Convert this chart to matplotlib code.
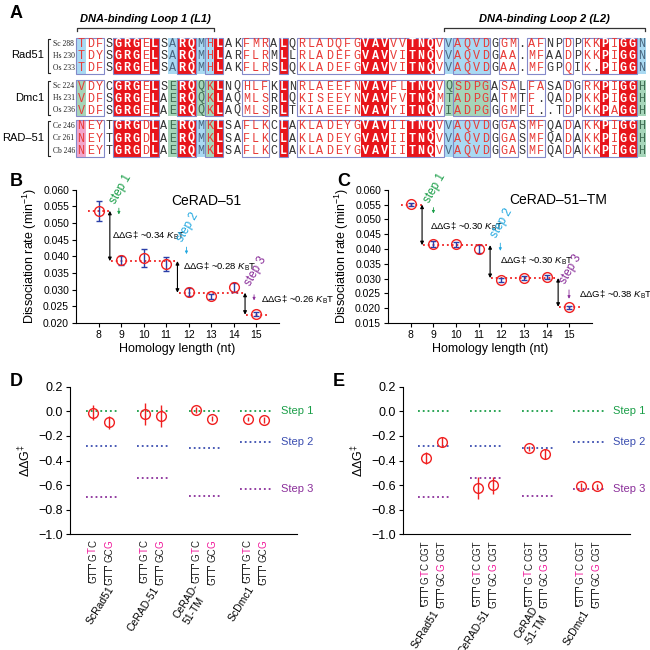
import numpy as np
import matplotlib
matplotlib.use("Agg")
import matplotlib.pyplot as plt
import matplotlib.transforms as mtransforms
from matplotlib.patches import Rectangle

plt.rcParams['font.family'] = ['Liberation Sans', 'DejaVu Sans']
plt.rcParams['mathtext.fontset'] = 'custom'
plt.rcParams['mathtext.rm'] = 'Liberation Sans'
plt.rcParams['mathtext.it'] = 'Liberation Sans:italic'
plt.rcParams['mathtext.bf'] = 'Liberation Sans:bold'

# ---------------- panel A: alignment ----------------
GROUPS = ['Rad51', 'Dmc1', 'RAD\u201351']
SPECIES = [['Sc 288', 'Hs 230', 'Os 233'],
           ['Sc 224', 'Hs 231', 'Os 236'],
           ['Ce 246', 'Cr 261', 'Cb 246']]
SEQS = [['TDFSGRGELSARQMHLAKFMRALQRLADQFGVAVVVTNQVVAQVDGGM.AFNPDPKKPIGGN',
         'TDYSGRGELSARQMHLARFLRMLLRLADEFGVAVVITNQVVAQVDGAA.MFAADPKKPIGGN',
         'TDFSGRGELSARQMHLAKFLRSLQKLADEFGVAVVITNQVVAQVDGAA.MFGPQIK.PIGGN'],
        ['VDYCGRGELSERQQKLNQHLFKLNRLAEEFNVAVFLTNQVQSDPGASALFASADGRKPIGGH',
         'VDFSGRGELAERQQKLAQMLSRLQKISEEYNVAVFVTNQMTADPGATMTF.QADPKKPIGGH',
         'VDFSGRGELAERQQKLAQMLSRLTKIAEEFNVAVYITNQVIADPGGGMFI..TDPKKPAGGH'],
        ['NEYTGRGDLAERQMKLSAFLKCLAKLADEYGVAVIITNQVVAQVDGGASMFQADAKKPIGGH',
         'NEYTGRGDLAERQMKLSAFLKCLAKLADEYGVAVIITNQVVAQVDGGASMFQADAKKPIGGH',
         'NEYTGRGDLAERQMKLSAFLKCLAKLADEYGVAVIITNQVVAQVDGGASMFQADAKKPIGGH']]
# R = strictly conserved, s = similar, n = not conserved
COLUMN_CLASS = ("sssnRRRsRn" "nRRnsRnnss" "snRnssssss"
                "sRRRssRRRs" "nssssnssns" "snnsnssRsR" "Rn")
HIGHLIGHT = [
    {0: 'b', 10: 'b', 13: 'b', 14: 'b', 40: 'b', 41: 'b', 42: 'b', 43: 'b', 44: 'b', 61: 'b'},
    {0: 'g', 10: 'g', 13: 'g', 14: 'g', 40: 'g', 41: 'g', 42: 'g', 43: 'g', 44: 'g', 61: 'g'},
    {0: 'p', 10: 'g', 13: 'b', 14: 'g', 40: 'b', 41: 'b', 42: 'b', 43: 'b', 44: 'b', 61: 'g'},
]

# ---------------- panels B, C ----------------
LENGTH = [8, 9, 10, 11, 12, 13, 14, 15]
STEP_GROUPS = [[8], [9, 10, 11], [12, 13, 14], [15]]
B_RATE = [0.0537, 0.0388, 0.0395, 0.0377, 0.0292, 0.0280, 0.0307, 0.0227]
B_ERR = [0.0030, 0.0014, 0.0026, 0.0020, 0.0012, 0.0008, 0.0014, 0.0005]
B_LEVELS = [0.0537, 0.0386, 0.0291, 0.0225]
B_DDG = ['0.34', '0.28', '0.26']
C_RATE = [0.0551, 0.0417, 0.0416, 0.0400, 0.0296, 0.0302, 0.0305, 0.0203]
C_ERR = [0.0006, 0.0010, 0.0008, 0.0012, 0.0007, 0.0007, 0.0006, 0.0005]
C_LEVELS = [0.0550, 0.0413, 0.0302, 0.0205]
C_DDG = ['0.30', '0.30', '0.38']

# ---------------- panels D, E ----------------
PROTEINS = ['ScRad51', 'CeRAD-51', 'CeRAD-\n51-TM', 'ScDmc1']
PROTEINS_E = ['ScRad51', 'CeRAD-51', 'CeRAD\n-51-TM', 'ScDmc1']
STEP1 = [0.0, 0.0, 0.0, 0.0]
STEP2 = [-0.28, -0.28, -0.30, -0.25]
STEP3 = [-0.70, -0.54, -0.69, -0.63]
D_GTC = [-0.01, -0.02, 0.01, -0.06]
D_GTC_ERR = [0.06, 0.09, 0.025, 0.015]
D_GCG = [-0.09, -0.04, -0.06, -0.07]
D_GCG_ERR = [0.05, 0.09, 0.02, 0.025]
E_GTC = [-0.38, -0.62, -0.30, -0.61]
E_GTC_ERR = [0.05, 0.09, 0.02, 0.03]
E_GCG = [-0.25, -0.60, -0.35, -0.61]
E_GCG_ERR = [0.04, 0.07, 0.04, 0.02]
D_SEQS = [[('GTT', 'k'), (' G', 'k'), ('T', 'm'), ('C', 'k')],
          [('GTT', 'k'), (' GC', 'k'), ('G', 'm')]]
E_SEQS = [[('GTT', 'k'), (' G', 'k'), ('T', 'm'), ('C', 'k'), (' CGT', 'k')],
          [('GTT', 'k'), (' GC', 'k'), ('G', 'm'), (' CGT', 'k')]]

RED = '#e8151b'
TXT_RED = '#e83a36'
BG = {'b': '#a9d9f2', 'g': '#a6d5b9', 'p': '#f2a6cc'}
BG_TXT = {'b': '#4a6680', 'g': '#3f6b52', 'p': '#d0306a'}
FRAME = '#8389c9'
GREEN = '#1a9e48'
CYAN = '#22a8e0'
BLUE = '#3a4db0'
PURPLE = '#8a2e9a'
MAGENTA = '#f0189a'
PT_RED = '#f02020'
EB_BLUE = '#2a3ea8'

fig = plt.figure(figsize=(6.5, 6.5), dpi=100)
ov = fig.add_axes([0, 0, 1, 1], zorder=-1)
ov.set_xlim(0, 650)
ov.set_ylim(650, 0)
ov.axis('off')

X0, DX = 81.0, 9.19
ROWS = [[43.5, 55.5, 67.5], [86.0, 98.0, 110.0], [125.5, 138.0, 150.5]]
HALF = 6.0


def runs(cols):
    out = []
    for c in cols:
        if out and c == out[-1][-1] + 1:
            out[-1].append(c)
        else:
            out.append([c])
    return out


ncol = len(COLUMN_CLASS)
for g, rows in enumerate(ROWS):
    top, bot = rows[0] - HALF, rows[-1] + HALF
    for c, key in HIGHLIGHT[g].items():
        ov.add_patch(Rectangle((X0 + (c - 0.5) * DX, top), DX, bot - top, fc=BG[key], ec='none'))
    for run in runs([c for c in range(ncol) if COLUMN_CLASS[c] == 'R']):
        ov.add_patch(Rectangle((X0 + (run[0] - 0.5) * DX, top), len(run) * DX, bot - top,
                               fc=RED, ec='none'))
    for run in runs([c for c in range(ncol) if COLUMN_CLASS[c] != 'n']):
        ov.add_patch(Rectangle((X0 + (run[0] - 0.5) * DX, top), len(run) * DX, bot - top,
                               fc='none', ec=FRAME, lw=0.8))
    for r, y in enumerate(rows):
        seq = SEQS[g][r]
        for c, ch in enumerate(seq):
            cls = COLUMN_CLASS[c]
            weight = 'normal'
            if cls == 'R':
                col, weight = 'white', 'bold'
            elif ch == '.':
                col = '#333333'
            elif c in HIGHLIGHT[g]:
                col = BG_TXT[HIGHLIGHT[g][c]] if cls == 'n' else TXT_RED
            elif cls == 's':
                col = TXT_RED
            else:
                col = '#333333'
            ov.text(X0 + c * DX, y + 0.5, ch, ha='center', va='center', color=col,
                    fontsize=8.5, fontweight=weight, family='Liberation Mono')
        ov.text(53, y + 0.5, SPECIES[g][r], ha='left', va='center', fontsize=5.5,
                family='Liberation Serif', color='#222222')
    ov.plot([50, 48, 48, 50], [top + 1, top + 1, bot - 1, bot - 1], color='#222222', lw=0.8)
    ov.text(44, rows[1], GROUPS[g], ha='right', va='center', fontsize=8)

# loop headers
for x1, x2, label in [(77, 214, 'DNA-binding Loop 1 (L1)'), (444, 645, 'DNA-binding Loop 2 (L2)')]:
    ov.plot([x1, x1, x2, x2], [31, 27.5, 27.5, 31], color='#333333', lw=0.9)
    ov.text((x1 + x2) / 2, 19, label, ha='center', va='center', fontsize=8,
            fontweight='bold', style='italic')

for letter, (lx, ly) in zip('ABCDE', [(10, 14), (10, 181), (337, 181), (10, 382), (333, 382)]):
    ov.text(lx, ly, letter, fontsize=13, fontweight='bold', ha='left', va='center')


# ---------------- rate panels ----------------
def rate_panel(rect, rates, errs, levels, ddg, ylim, title, title_xy, ddg_xy, step_xy):
    ax = fig.add_axes(rect)
    for lv, grp in zip(levels, STEP_GROUPS):
        ax.plot([grp[0] - 0.45, grp[-1] + 0.5], [lv, lv], ls=':', color=PT_RED, lw=1.3, zorder=2)
    ax.errorbar(LENGTH, rates, yerr=errs, fmt='none', ecolor=EB_BLUE, elinewidth=1.0,
                capsize=2.5, capthick=1.0, zorder=3)
    ax.plot(LENGTH, rates, 'o', mfc='none', mec=PT_RED, ms=7, mew=1.0, zorder=4)
    for i in range(3):
        xb = STEP_GROUPS[i][-1] + 0.5
        ax.annotate('', xy=(xb, levels[i + 1]), xytext=(xb, levels[i]),
                    arrowprops=dict(arrowstyle='<|-|>', color='k', lw=0.8, mutation_scale=5,
                                    shrinkA=0, shrinkB=0))
        ax.text(ddg_xy[i][0], ddg_xy[i][1],
                '\u0394\u0394G\u2021 ~' + ddg[i] + r' $\mathit{K}_\mathrm{B}$T',
                fontsize=6.8, ha='left', va='center', clip_on=False)
    for i, colr in enumerate([GREEN, CYAN, PURPLE]):
        sx, sy, ay0, ay1 = step_xy[i]
        ax.text(sx, sy, 'step %d' % (i + 1), rotation=60, rotation_mode='anchor',
                ha='left', va='bottom', color=colr, fontsize=8.5)
        ax.annotate('', xy=(sx + 0.05, ay1), xytext=(sx + 0.05, ay0),
                    arrowprops=dict(arrowstyle='-|>', color=colr, lw=0.6, mutation_scale=4,
                                    shrinkA=0, shrinkB=0))
    ax.text(title_xy[0], title_xy[1], title, fontsize=10, ha='center', va='center')
    ax.set_xlim(7, 16)
    ax.set_ylim(*ylim)
    ax.set_xticks(LENGTH)
    ax.set_yticks(np.arange(ylim[0], ylim[1] + 1e-9, 0.005))
    ax.yaxis.set_major_formatter(matplotlib.ticker.FormatStrFormatter('%.3f'))
    ax.tick_params(labelsize=7.5, length=3, width=0.8, pad=2)
    for s in ['top', 'right']:
        ax.spines[s].set_visible(False)
    for s in ['left', 'bottom']:
        ax.spines[s].set_linewidth(0.8)
    ax.set_xlabel('Homology length (nt)', fontsize=9, labelpad=2)
    ax.set_ylabel('Dissociation rate (min$^{-1}$)', fontsize=9, labelpad=3)
    return ax


rate_panel([0.117, 0.503, 0.312, 0.205], B_RATE, B_ERR, B_LEVELS, B_DDG, (0.020, 0.060),
           'CeRAD\u201351', (12.8, 0.0565),
           [(8.6, 0.0462), (11.75, 0.0370), (15.2, 0.0270)],
           [(8.85, 0.0550, 0.0545, 0.0526), (11.85, 0.0437, 0.0428, 0.0407),
            (14.85, 0.0305, 0.0285, 0.0268)])
rate_panel([0.597, 0.503, 0.314, 0.205], C_RATE, C_ERR, C_LEVELS, C_DDG, (0.015, 0.060),
           'CeRAD\u201351\u2013TM', (14.5, 0.0566),
           [(8.85, 0.0475), (11.95, 0.0362), (15.42, 0.0247)],
           [(8.95, 0.0549, 0.0540, 0.0520), (11.9, 0.0430, 0.0420, 0.0394),
            (14.93, 0.0275, 0.0262, 0.0232)])


# ---------------- free energy panels ----------------
BRACKETS = []


def colored_vertical(ax, x, y, parts, fs=7):
    """Stack rotated pieces downward from (x, y); a leading space becomes a gap."""
    trans = mtransforms.blended_transform_factory(ax.transData, ax.transAxes)
    prev = None
    gap_next = 0.0
    for txt, c in reversed(parts):
        colr = MAGENTA if c == 'm' else '#222222'
        gap = gap_next
        gap_next = 0.28 * fs if txt.startswith(' ') else 0.0
        txt = txt.strip()
        if prev is None:
            prev = ax.text(x, y, txt, transform=trans, rotation=90, ha='center', va='top',
                           color=colr, fontsize=fs, clip_on=False)
        else:
            prev = ax.annotate(txt, xy=(0.5, 0), xycoords=prev, xytext=(0, -gap),
                               textcoords='offset points', rotation=90, ha='center',
                               va='top', color=colr, fontsize=fs, annotation_clip=False)
    BRACKETS.append(prev)


def ddg_panel(rect, gtc, gtc_err, gcg, gcg_err, seqs, names, name_y, name_dx, step_x):
    ax = fig.add_axes(rect)
    off = 0.154
    for i in range(len(PROTEINS)):
        for lv, colr in zip([STEP1[i], STEP2[i], STEP3[i]], [GREEN, BLUE, PURPLE]):
            ax.plot([i - 0.3, i + 0.31], [lv, lv], ls=':', color=colr, lw=1.3)
    xs = np.arange(len(PROTEINS))
    ax.errorbar(xs - off, gtc, yerr=gtc_err, fmt='o', mfc='none', mec=PT_RED, ecolor=PT_RED,
                ms=7, mew=1.0, elinewidth=1.0, capsize=0)
    ax.errorbar(xs + off, gcg, yerr=gcg_err, fmt='o', mfc='none', mec=PT_RED, ecolor=PT_RED,
                ms=7, mew=1.0, elinewidth=1.0, capsize=0)
    for lv, colr, lab in zip([STEP1[-1], STEP2[-1], STEP3[-1]], [GREEN, BLUE, PURPLE],
                             ['Step 1', 'Step 2', 'Step 3']):
        ax.text(step_x, lv, lab, color=colr, fontsize=8, ha='left', va='center')
    trans = mtransforms.blended_transform_factory(ax.transData, ax.transAxes)
    for i in range(len(PROTEINS)):
        for k, sgn in enumerate([-1, 1]):
            colored_vertical(ax, i + sgn * off, -0.04, seqs[k])
        ax.text(i + name_dx[i], name_y, names[i], transform=trans, rotation=58,
                rotation_mode='anchor', ha='right', va='center', fontsize=7.5,
                multialignment='left')
    ax.set_xlim(-0.6, 3.8)
    ax.set_ylim(-1.0, 0.2)
    ax.set_yticks(np.arange(-1.0, 0.21, 0.2))
    ax.yaxis.set_major_formatter(matplotlib.ticker.FuncFormatter(
        lambda v, p: ('%.1f' % v).replace('-', '\u2212') if abs(v) > 1e-9 else '0.0'))
    ax.set_xticks([])
    ax.tick_params(labelsize=9, length=3, width=0.8, pad=2)
    for s in ['top', 'right']:
        ax.spines[s].set_visible(False)
    for s in ['left', 'bottom']:
        ax.spines[s].set_linewidth(0.8)
    ax.set_ylabel('\u0394\u0394G$^{\u2021}$', fontsize=9, labelpad=4)
    return ax


ddg_panel([0.108, 0.178, 0.349, 0.227], D_GTC, D_GTC_ERR, D_GCG, D_GCG_ERR, D_SEQS,
          PROTEINS, -0.36, [0.2, 0.08, -0.06, -0.07], 3.48)
ddg_panel([0.620, 0.178, 0.349, 0.227], E_GTC, E_GTC_ERR, E_GCG, E_GCG_ERR, E_SEQS,
          PROTEINS_E, -0.52, [0.05, 0.05, 0.07, -0.04], 3.48)

# brackets next to the leading "GTT" of every sequence label
fig.canvas.draw()
renderer = fig.canvas.get_renderer()
inv = ov.transData.inverted()
for art in BRACKETS:
    bb = art.get_window_extent(renderer)
    (xa, ya), (xb, yb) = inv.transform([(bb.x0, bb.y0), (bb.x1, bb.y1)])
    bx = xa - 0.5
    ov.plot([bx + 2.5, bx, bx, bx + 2.5], [ya - 0.5, ya - 0.5, yb + 0.5, yb + 0.5],
            color='#222222', lw=0.7)

fig.savefig('out.png', dpi=100)
